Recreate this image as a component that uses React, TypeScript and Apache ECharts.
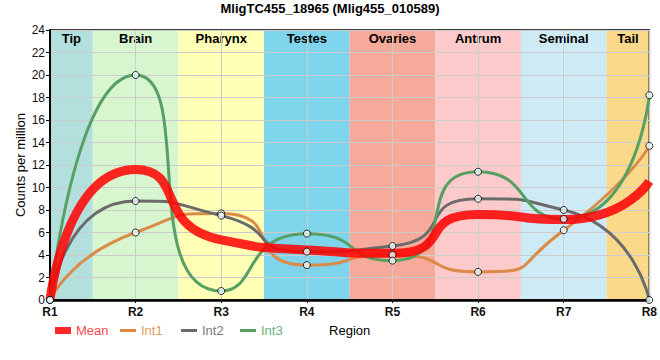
import React, { useEffect, useRef } from 'react';
import * as echarts from 'echarts';

const titleText = 'MligTC455_18965 (Mlig455_010589)';
const categories = ['R1', 'R2', 'R3', 'R4', 'R5', 'R6', 'R7', 'R8'];
const regionNames = ['Tip', 'Brain', 'Pharynx', 'Testes', 'Ovaries', 'Antrum', 'Seminal', 'Tail'];
const regionColors = ['#b3e0dd', '#d7f5cf', '#ffffb5', '#7ed4eb', '#f5aa9b', '#fccaca', '#ceeaf4', '#fbd98b'];

const meanValues = [0, 11.6, 5.35, 4.45, 4.15, 7.6, 7.15, 10.55];
const int1Values = [0, 6.0, 7.7, 3.1, 4.0, 2.5, 6.2, 13.7];
const int2Values = [0, 8.8, 7.5, 4.3, 4.8, 9.0, 8.0, 0];
const int3Values = [0, 20.0, 0.8, 5.9, 3.5, 11.4, 7.2, 18.2];

const seriesNames = ['Mean', 'Int1', 'Int2', 'Int3'];
const seriesColors = ['rgba(255,0,0,0.85)', '#db8a48', '#6b6b6b', '#57a064'];
const legendTextColors = ['#ff4a4a', '#e39a62', '#7a7a7a', '#6fb07c'];

const FONT = '"Liberation Sans", Arial, sans-serif';

export default function App() {
  const ref = useRef<HTMLDivElement>(null);

  useEffect(() => {
    if (!ref.current) return;
    const chart = echarts.init(ref.current, null, { renderer: 'svg' });

    const toPoints = (vals: number[]) => vals.map((v, i) => [i, v]);
    const lastIdx = categories.length - 1;

    const bandData = regionNames.map((name, i) => [
      { name, xAxis: Math.max(0, i - 0.5), itemStyle: { color: regionColors[i] } },
      { xAxis: Math.min(lastIdx, i + 0.5) },
    ]);

    const lineSet = [meanValues, int1Values, int2Values, int3Values];
    const lineWidths = [9, 3, 3, 3];

    const lineSeries = lineSet.map((vals, k) => ({
      name: seriesNames[k],
      type: 'line',
      data: toPoints(vals),
      smooth: 0.7,
      symbol: 'none',
      showSymbol: false,
      lineStyle: { width: lineWidths[k], color: seriesColors[k] },
      itemStyle: { color: seriesColors[k] },
      z: k === 0 ? 4 : 3,
    }));

    const markerSeries = [int1Values, int2Values, int3Values].map((vals, k) => ({
      name: 'markers' + (k + 1),
      type: 'scatter',
      data: toPoints(vals),
      symbol: 'circle',
      symbolSize: 7,
      itemStyle: { color: '#eef9fb', borderColor: '#000', borderWidth: 1 },
      z: 6,
      clip: false,
    }));

    const legendLefts = [55, 120, 181, 240];
    const legends = seriesNames.map((name, k) => ({
      data: [
        {
          name,
          icon: k === 0 ? 'rect' : 'path://M0,0H16V3H0Z',
          textStyle: { color: legendTextColors[k] },
        },
      ],
      left: legendLefts[k],
      top: 324,
      padding: 0,
      itemWidth: 16,
      itemHeight: 7,
      itemGap: 4,
      selectedMode: false,
      itemStyle: { borderWidth: 0 },
      textStyle: { fontSize: 13, fontFamily: FONT },
    }));

    chart.setOption({
      animation: false,
      textStyle: { fontFamily: FONT },
      title: {
        text: titleText,
        left: 'center',
        top: 2,
        padding: 0,
        textStyle: { fontSize: 13, fontWeight: 'bold', color: '#000', fontFamily: FONT },
      },
      legend: legends,
      grid: {
        left: 50,
        right: 10,
        top: 30,
        bottom: 60,
        show: true,
        z: 1.5,
        backgroundColor: 'transparent',
        borderColor: '#000',
        borderWidth: 1.5,
      },
      xAxis: {
        type: 'value',
        min: 0,
        max: lastIdx,
        interval: 1,
        z: 1.5,
        name: 'Region',
        nameLocation: 'middle',
        nameGap: 24,
        nameMoveOverlap: false,
        nameTextStyle: { fontSize: 13, color: '#000', fontFamily: FONT },
        axisLine: { show: true, lineStyle: { color: '#000', width: 2.5 } },
        axisTick: { show: true, length: 3, lineStyle: { color: '#000' } },
        axisLabel: {
          formatter: (v: number) => categories[v] ?? '',
          fontSize: 12,
          fontWeight: 'bold',
          color: '#111',
          margin: 6,
        },
        splitLine: { show: true, lineStyle: { color: '#cccccc', width: 1 } },
      },
      yAxis: {
        type: 'value',
        min: 0,
        max: 24,
        interval: 2,
        z: 1.5,
        name: 'Counts per million',
        nameLocation: 'middle',
        nameGap: 23,
        nameMoveOverlap: false,
        nameTextStyle: { fontSize: 13, color: '#000', fontFamily: FONT },
        axisLine: { show: true, lineStyle: { color: '#000', width: 2 } },
        axisTick: { show: true, length: 4, lineStyle: { color: '#000' } },
        axisLabel: { fontSize: 12, color: '#111', margin: 5 },
        splitLine: { show: true, lineStyle: { color: '#cccccc', width: 1 } },
      },
      series: [
        {
          name: 'bands',
          type: 'line',
          data: [],
          z: 1,
          markArea: {
            silent: true,
            z: 1,
            label: {
              show: true,
              position: 'insideTop',
              distance: 2,
              fontSize: 13,
              fontWeight: 'bold',
              color: '#000',
              fontFamily: FONT,
            },
            data: bandData,
          },
        },
        ...lineSeries,
        ...markerSeries,
      ],
    });

    return () => chart.dispose();
  }, []);

  return (
    <div
      ref={ref}
      style={{ position: 'fixed', left: 0, top: 0, width: 660, height: 360, background: '#fff' }}
    />
  );
}
